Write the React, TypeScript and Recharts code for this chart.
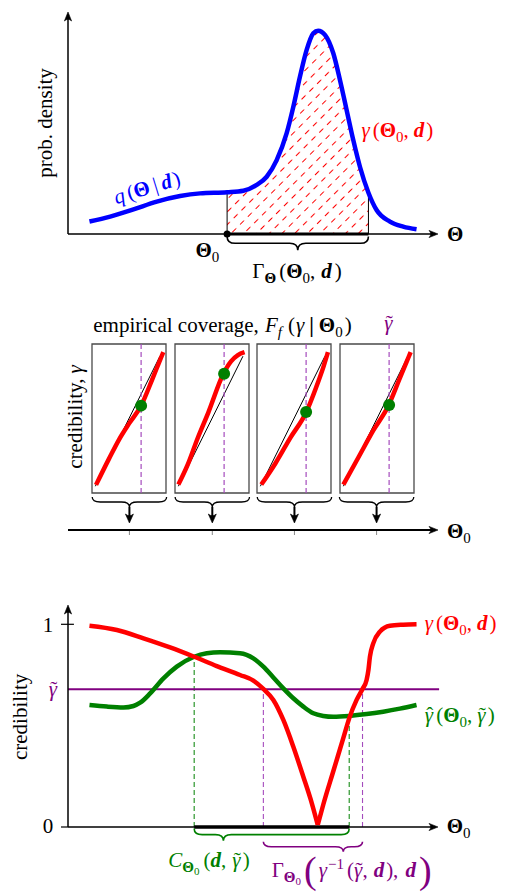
import React from "react";
import {
  ComposedChart,
  Line,
  Area,
  XAxis,
  YAxis,
  ReferenceLine,
  ReferenceDot,
  ReferenceArea,
} from "recharts";

// ---------------- data ----------------
// Top panel: posterior density q(Θ | d)
const thetaGrid = [5.8, 11.4, 17.7, 24.0, 30.3, 35.7, 43.0, 47.4, 51.0, 53.7, 56.4, 59.1, 60.9, 62.7, 64.5, 66.3, 67.6, 69.5, 71.7, 73.5, 75.3, 77.1, 78.9, 81.2, 83.4, 87.0, 90.6, 94.2];
const density = [5.6, 7.8, 11.1, 14.6, 17.1, 18.3, 18.8, 19.5, 22.1, 25.8, 33.3, 45.4, 57.3, 70.9, 82.9, 90.4, 91.6, 89.6, 81.4, 69.4, 55.9, 42.3, 30.3, 18.6, 10.8, 5.6, 3.3, 2.1];
const theta0Value = 43.0;
const regionEnd = 81.2;

// Middle panel: coverage curves at four Θ0 samples
const sampleTheta0 = [16.6, 39.0, 61.2, 83.4];
const gammaTilde = 0.68;
const diagonal = [
  { g: 0, c: 0 },
  { g: 0.96, c: 0.96 },
];
const coverage1 = [
  { g: 0.01, c: 0.01 }, { g: 0.2, c: 0.2 }, { g: 0.35, c: 0.343 }, { g: 0.5, c: 0.462 },
  { g: 0.68, c: 0.595 }, { g: 0.85, c: 0.795 }, { g: 0.94, c: 0.905 }, { g: 1.01, c: 0.99 },
];
const coverage2 = [
  { g: 0.0, c: 0.012 }, { g: 0.139, c: 0.159 }, { g: 0.288, c: 0.356 }, { g: 0.445, c: 0.544 },
  { g: 0.669, c: 0.83 }, { g: 0.783, c: 0.922 }, { g: 0.885, c: 0.968 }, { g: 0.984, c: 0.99 },
];
const coverage3 = [
  { g: 0.014, c: 0.012 }, { g: 0.225, c: 0.17 }, { g: 0.445, c: 0.357 }, { g: 0.683, c: 0.548 },
  { g: 0.83, c: 0.731 }, { g: 0.94, c: 0.885 }, { g: 1.005, c: 0.99 },
];
const coverage4 = [
  { g: 0.0, c: 0.012 }, { g: 0.225, c: 0.214 }, { g: 0.445, c: 0.412 }, { g: 0.673, c: 0.598 },
  { g: 0.83, c: 0.786 }, { g: 0.94, c: 0.918 }, { g: 1.0, c: 0.99 },
];
const coverageCurves = [coverage1, coverage2, coverage3, coverage4];
const coverageAtTilde = [0.595, 0.83, 0.548, 0.6];

// Bottom panel: credibility γ(Θ0, d) and γ̂(Θ0, γ̃)
const redLeftTheta = [5.8, 13.2, 20.4, 27.6, 34.1, 40.2, 46.5, 50.1, 52.8, 55.5, 58.2, 60.9, 63.6, 65.9, 67.5];
const redLeftCred = [0.993, 0.972, 0.931, 0.886, 0.84, 0.794, 0.75, 0.722, 0.681, 0.627, 0.528, 0.396, 0.248, 0.117, 0.01];
const redRightTheta = [67.5, 69.0, 71.7, 74.4, 76.0, 78.0, 79.6, 80.7, 81.2, 81.6, 82.5, 84.3, 87.0, 90.6, 94.2];
const redRightCred = [0.01, 0.111, 0.275, 0.438, 0.536, 0.627, 0.681, 0.725, 0.775, 0.84, 0.906, 0.964, 0.993, 0.998, 1.0];
const greenTheta = [5.8, 10.5, 15.0, 17.7, 19.5, 22.2, 25.8, 29.4, 34.1, 37.5, 41.1, 46.5, 50.1, 52.8, 55.5, 58.2, 60.9, 63.6, 66.3, 69.0, 71.7, 76.0, 80.7, 85.2, 89.7, 94.2];
const greenCred = [0.602, 0.594, 0.59, 0.597, 0.613, 0.659, 0.733, 0.791, 0.84, 0.857, 0.862, 0.857, 0.832, 0.791, 0.738, 0.684, 0.635, 0.594, 0.561, 0.548, 0.544, 0.548, 0.557, 0.569, 0.584, 0.602];
const credibleLo = 34.1;
const credibleHi = 76.0;
const credibleBraceTip = 42.0;
const gammaLo = 52.8;
const gammaHi = 79.6;
const gammaBraceTip = 74.4;

// ---------------- style / layout ----------------
const FONT = "'Liberation Serif', 'Times New Roman', Times, serif";
const FS = 21;
const SUB = 15;
const SUB2 = 11;
const BLUE = "#0000ff";
const RED = "#ff0000";
const GREEN = "#008000";
const PURPLE = "#800080";
const DPURPLE = "#a54bbd";
const M0 = { top: 0, right: 0, bottom: 0, left: 0 };

const ORIGIN_X = 68;
const PX_PER_UNIT = 3.7;
const X_DOMAIN: [number, number] = [-ORIGIN_X / PX_PER_UNIT, (508 - ORIGIN_X) / PX_PER_UNIT];
const TOP_Y: [number, number] = [-56 / 2.22, 234 / 2.22];
const MID_Y: [number, number] = [-30, 234];
const BOT_Y: [number, number] = [-65 / 202.7, 237 / 202.7];

const BOX_W = 74;
const BOX_H = 149;
const PAD = 5;
const BOX_HALF_UNITS = 37.2 / PX_PER_UNIT;

// ---------------- helpers ----------------
type Anchor = "start" | "middle" | "end";
function txt(
  key: string,
  x: number,
  y: number,
  content: React.ReactNode,
  opt: { anchor?: Anchor; fill?: string; rotate?: number; central?: boolean; size?: number; bold?: boolean } = {}
) {
  const { anchor = "start", fill = "#000", rotate = 0, central = false, size = FS, bold = false } = opt;
  return (
    <ReferenceDot
      key={key}
      x={x}
      y={y}
      r={0}
      ifOverflow="visible"
      shape={(p: any) => (
        <text
          x={p.cx}
          y={p.cy}
          textAnchor={anchor}
          fill={fill}
          fontFamily={FONT}
          fontSize={size}
          fontWeight={bold ? "bold" : "normal"}
          dominantBaseline={central ? "central" : undefined}
          transform={rotate ? `rotate(${rotate} ${p.cx} ${p.cy})` : undefined}
        >
          {content}
        </text>
      )}
    />
  );
}

function arrowShape(color: string, width: number, headLen = 9, headW = 3.6) {
  return (p: any) => {
    const { x1, y1, x2, y2 } = p;
    const dx = x2 - x1;
    const dy = y2 - y1;
    const L = Math.hypot(dx, dy) || 1;
    const ux = dx / L;
    const uy = dy / L;
    const nx = -uy;
    const ny = ux;
    const bx = x2 - ux * headLen;
    const by = y2 - uy * headLen;
    const cxp = x2 - ux * headLen * 0.62;
    const cyp = y2 - uy * headLen * 0.62;
    const head = `M${x2},${y2} L${bx + nx * headW},${by + ny * headW} Q${cxp},${cyp} ${bx - nx * headW},${by - ny * headW} Z`;
    return (
      <g>
        <line x1={x1} y1={y1} x2={x2 - ux * headLen * 0.6} y2={y2 - uy * headLen * 0.6} stroke={color} strokeWidth={width} />
        <path d={head} fill={color} stroke={color} strokeWidth={0.6} strokeLinejoin="round" />
      </g>
    );
  };
}

function braceShape(tipFrac: number, color: string, width = 1.6) {
  return (p: any) => {
    const { x1, y1, x2, y2 } = p;
    const xa = Math.min(x1, x2);
    const xb = Math.max(x1, x2);
    const xm = xa + (xb - xa) * tipFrac;
    const h = y2 - y1;
    const ym = y1 + h / 2;
    const r = Math.min(8, (xb - xa) / 6, Math.max(2, (xm - xa) / 2), Math.max(2, (xb - xm) / 2));
    const d = `M${xa},${y1} Q${xa},${ym} ${xa + r},${ym} L${xm - r},${ym} Q${xm},${ym} ${xm},${y2} Q${xm},${ym} ${xm + r},${ym} L${xb - r},${ym} Q${xb},${ym} ${xb},${y1}`;
    return <path d={d} fill="none" stroke={color} strokeWidth={width} />;
  };
}

function seg(key: string, xA: number, yA: number, xB: number, yB: number, props: any) {
  return <ReferenceLine key={key} segment={[{ x: xA, y: yA }, { x: xB, y: yB }]} ifOverflow="visible" {...props} />;
}

// ---------------- math labels ----------------
// γ with an accent placed above it (tilde / hat)
const accented = (accent: string, dxBack = -6.8) => (
  <>
    <tspan fontStyle="italic">γ</tspan>
    <tspan dx={dxBack} fontStyle="normal">{accent}</tspan>
  </>
);
const gTilde = accented("˜");
const gHat = accented("ˆ");

const Theta0 = (
  <>
    <tspan fontWeight="bold">Θ</tspan>
    <tspan fontSize={SUB} dy={5}>0</tspan>
  </>
);

const gammaLabel = (
  <>
    <tspan fontStyle="italic">γ</tspan>
    <tspan dx={3}>(</tspan>
    <tspan fontWeight="bold">Θ</tspan>
    <tspan fontSize={SUB} dy={5}>0</tspan>
    <tspan dy={-5}>,</tspan>
    <tspan dx={5} fontWeight="bold" fontStyle="italic">d</tspan>
    <tspan dx={2}>)</tspan>
  </>
);

// ---------------- panels ----------------
function TopPanel() {
  const rows = thetaGrid.map((t, i) => ({
    t,
    q: density[i],
    shade: t >= theta0Value && t <= regionEnd ? density[i] : null,
  }));
  const qAt = (t: number) => density[thetaGrid.indexOf(t)];
  return (
    <ComposedChart width={508} height={290} data={rows} margin={M0}>
      <defs>
        <pattern
          id="hatchRedTop"
          patternUnits="userSpaceOnUse"
          width="11"
          height="9"
          patternTransform="rotate(-45)"
        >
          <rect x="0" y="4" width="5.5" height="1" fill="#ff0000" style={{ fill: "#ff0000" }} />
        </pattern>
      </defs>
      <XAxis type="number" dataKey="t" domain={X_DOMAIN} hide allowDataOverflow height={0} />
      <YAxis type="number" domain={TOP_Y} hide allowDataOverflow width={0} />
      <Area
        type="monotone"
        dataKey="shade"
        fill="url(#hatchRedTop)"
        fillOpacity={1}
        stroke="none"
        baseValue={0}
        dot={false}
        activeDot={false}
        isAnimationActive={false}
      />
      {seg("e1", theta0Value, 0, theta0Value, qAt(theta0Value), { stroke: "#000", strokeWidth: 1 })}
      {seg("e2", regionEnd, 0, regionEnd, qAt(regionEnd), { stroke: "#000", strokeWidth: 1 })}
      {seg("yax", 0, 0, 0, 100, { shape: arrowShape("#000", 1.5) })}
      {seg("xax", 0, 0, 100, 0, { shape: arrowShape("#000", 1.5) })}
      {seg("thick", theta0Value, 0, regionEnd, 0, { stroke: "#000", strokeWidth: 3.2 })}
      <Line
        type="monotone"
        dataKey="q"
        stroke={BLUE}
        strokeWidth={4.5}
        dot={false}
        activeDot={false}
        isAnimationActive={false}
      />
      <ReferenceDot x={theta0Value} y={0} r={3.5} fill="#000" stroke="none" ifOverflow="visible" />
      {seg("brace", theta0Value, -1.1, regionEnd, -7.3, { shape: braceShape(0.5, "#000", 1.6) })}
      {txt("pd", -6.22, 50.0, "prob. density", { anchor: "middle", rotate: -90, central: true })}
      {txt(
        "q",
        21.35,
        20.9,
        <>
          <tspan fontStyle="italic">q</tspan>
          <tspan dx={3}>(</tspan>
          <tspan fontWeight="bold">Θ</tspan>
          <tspan dx={4}>|</tspan>
          <tspan dx={4} fontWeight="bold" fontStyle="italic">d</tspan>
          <tspan dx={2}>)</tspan>
        </>,
        { anchor: "middle", rotate: -17, central: true, fill: BLUE }
      )}
      {txt("g", 79.3, 43.7, gammaLabel, { fill: RED })}
      {txt("Th", 102.4, -3.2, "Θ", { bold: true })}
      {txt("Th0", 40.9, -10.4, Theta0, { anchor: "end" })}
      {txt(
        "Gam",
        61.9,
        -19.8,
        <>
          <tspan>Γ</tspan>
          <tspan fontWeight="bold" fontSize={SUB} dy={5}>Θ</tspan>
          <tspan dy={-5} dx={3}>(</tspan>
          <tspan fontWeight="bold">Θ</tspan>
          <tspan fontSize={SUB} dy={5}>0</tspan>
          <tspan dy={-5}>,</tspan>
          <tspan dx={6} fontWeight="bold" fontStyle="italic">d</tspan>
          <tspan dx={3}>)</tspan>
        </>,
        { anchor: "middle" }
      )}
    </ComposedChart>
  );
}

function MiddleOverlay() {
  const rows = sampleTheta0.map((t) => ({ t }));
  return (
    <ComposedChart width={508} height={264} data={rows} margin={M0}>
      <XAxis type="number" dataKey="t" domain={X_DOMAIN} hide allowDataOverflow height={0} />
      <YAxis type="number" domain={MID_Y} hide allowDataOverflow width={0} />
      {sampleTheta0.map((t, i) => seg(`tk${i}`, t, 0, t, -5, { stroke: "#888", strokeWidth: 1 }))}
      {seg("ax", 0, 0, 100, 0, { shape: arrowShape("#000", 2) })}
      {sampleTheta0.map((t, i) =>
        seg(`br${i}`, t - BOX_HALF_UNITS, 33, t + BOX_HALF_UNITS, 23, { shape: braceShape(0.5, "#000", 1.3) })
      )}
      {sampleTheta0.map((t, i) => seg(`ar${i}`, t, 23, t, 7, { shape: arrowShape("#000", 2, 9, 4) }))}
      {txt(
        "title",
        6.84,
        198,
        <>
          <tspan>empirical coverage,</tspan>
          <tspan dx={6} fontStyle="italic">F</tspan>
          <tspan fontStyle="italic" fontSize={SUB} dy={5}>f</tspan>
          <tspan dy={-5} dx={6}>(</tspan>
          <tspan dx={1} fontStyle="italic">γ</tspan>
          <tspan dx={5} fontWeight="bold">|</tspan>
          <tspan dx={5} fontWeight="bold">Θ</tspan>
          <tspan fontSize={SUB} dy={5}>0</tspan>
          <tspan dy={-5} dx={2}>)</tspan>
        </>
      )}
      {txt("gt", 86.6, 200, gTilde, { anchor: "middle", fill: PURPLE })}
      {txt(
        "cred",
        1.9,
        113,
        <>
          <tspan>credibility,</tspan>
          <tspan dx={5} fontStyle="italic">γ</tspan>
        </>,
        { anchor: "middle", rotate: -90, central: true }
      )}
      {txt("Th0", 102.4, -8, Theta0)}
    </ComposedChart>
  );
}

function CoverageBox({ points, dotValue }: { points: { g: number; c: number }[]; dotValue: number }) {
  return (
    <ComposedChart width={BOX_W + 2 * PAD} height={BOX_H + 2 * PAD} margin={{ top: PAD, right: PAD, bottom: PAD, left: PAD }}>
      <XAxis type="number" dataKey="g" domain={[-0.05, 1.05]} hide allowDataOverflow height={0} />
      <YAxis type="number" domain={[-0.05, 1.05]} hide allowDataOverflow width={0} />
      <ReferenceArea x1={-0.05} x2={1.05} y1={-0.05} y2={1.05} fill="none" fillOpacity={0} stroke="#4a4a4a" strokeWidth={1.3} ifOverflow="visible" />
      <Line data={diagonal} dataKey="c" type="linear" stroke="#000" strokeWidth={1} dot={false} activeDot={false} isAnimationActive={false} />
      <ReferenceLine x={gammaTilde} stroke={DPURPLE} strokeDasharray="5 3" strokeWidth={1.2} />
      <Line data={points} dataKey="c" type="monotone" stroke={RED} strokeWidth={4.5} dot={false} activeDot={false} isAnimationActive={false} />
      <ReferenceDot x={gammaTilde} y={dotValue} r={6} fill={GREEN} stroke="none" ifOverflow="visible" />
    </ComposedChart>
  );
}

function BottomPanel() {
  const red1 = redLeftTheta.map((t, i) => ({ t, c: redLeftCred[i] }));
  const red2 = redRightTheta.map((t, i) => ({ t, c: redRightCred[i] }));
  const green = greenTheta.map((t, i) => ({ t, c: greenCred[i] }));
  const gAt = (t: number) => greenCred[greenTheta.indexOf(t)];
  return (
    <ComposedChart width={508} height={302} data={green} margin={M0}>
      <XAxis type="number" dataKey="t" domain={X_DOMAIN} hide allowDataOverflow height={0} />
      <YAxis type="number" domain={BOT_Y} hide allowDataOverflow width={0} />
      {seg("dg1", credibleLo, 0, credibleLo, gAt(credibleLo), { stroke: GREEN, strokeWidth: 1, strokeDasharray: "5 3" })}
      {seg("dg2", credibleHi, 0, credibleHi, gAt(credibleHi), { stroke: GREEN, strokeWidth: 1, strokeDasharray: "5 3" })}
      {seg("dp1", gammaLo, 0, gammaLo, gammaTilde, { stroke: DPURPLE, strokeWidth: 1.1, strokeDasharray: "5 3" })}
      {seg("dp2", gammaHi, 0, gammaHi, gammaTilde, { stroke: DPURPLE, strokeWidth: 1.1, strokeDasharray: "5 3" })}
      {seg("ht", 0, gammaTilde, 100.3, gammaTilde, { stroke: PURPLE, strokeWidth: 2 })}
      {seg("yax", 0, 0, 0, 1.095, { shape: arrowShape("#000", 1.5) })}
      {seg("xax", 0, 0, 100, 0, { shape: arrowShape("#000", 1.5) })}
      {seg("t1", -1.9, 1, 1.6, 1, { stroke: "#000", strokeWidth: 1.2 })}
      {seg("t0", -1.9, 0, 0, 0, { stroke: "#000", strokeWidth: 1.2 })}
      {seg("thick", credibleLo, 0, credibleHi, 0, { stroke: "#000", strokeWidth: 3.5 })}
      <Line data={green} dataKey="c" type="monotone" stroke={GREEN} strokeWidth={4.5} dot={false} activeDot={false} isAnimationActive={false} />
      <Line data={red1} dataKey="c" type="monotone" stroke={RED} strokeWidth={4.5} dot={false} activeDot={false} isAnimationActive={false} />
      <Line data={red2} dataKey="c" type="monotone" stroke={RED} strokeWidth={4.5} dot={false} activeDot={false} isAnimationActive={false} />
      {seg("bg", credibleLo, -0.007, credibleHi, -0.068, {
        shape: braceShape((credibleBraceTip - credibleLo) / (credibleHi - credibleLo), GREEN, 1.6),
      })}
      {seg("bp", gammaLo, -0.073, gammaHi, -0.122, {
        shape: braceShape((gammaBraceTip - gammaLo) / (gammaHi - gammaLo), PURPLE, 1.6),
      })}
      {txt("one", -5.4, 0.962, "1", { anchor: "middle" })}
      {txt("zero", -5.4, -0.03, "0", { anchor: "middle" })}
      {txt("gt", -4.05, 0.681, gTilde, { anchor: "middle", central: true, fill: PURPLE })}
      {txt("cred", -12.97, 0.543, "credibility", { anchor: "middle", rotate: -90, central: true })}
      {txt("Th0", 102.35, -0.03, Theta0)}
      {txt("gam", 96.4, 0.972, gammaLabel, { fill: RED })}
      {txt(
        "ghat",
        96.4,
        0.518,
        <>
          {gHat}
          <tspan dx={3}>(</tspan>
          <tspan fontWeight="bold">Θ</tspan>
          <tspan fontSize={SUB} dy={5}>0</tspan>
          <tspan dy={-5}>,</tspan>
          <tspan dx={5} fontStyle="italic">γ</tspan>
          <tspan dx={-6.8}>˜</tspan>
          <tspan dx={2}>)</tspan>
        </>,
        { fill: GREEN }
      )}
      {txt(
        "C",
        27.1,
        -0.196,
        <>
          <tspan fontStyle="italic">C</tspan>
          <tspan fontWeight="bold" fontSize={SUB} dy={5}>Θ</tspan>
          <tspan fontSize={SUB2} dy={3}>0</tspan>
          <tspan dy={-8} dx={4}>(</tspan>
          <tspan fontWeight="bold" fontStyle="italic">d</tspan>
          <tspan>,</tspan>
          <tspan dx={6} fontStyle="italic">γ</tspan>
          <tspan dx={-6.8}>˜</tspan>
          <tspan dx={2}>)</tspan>
        </>,
        { fill: GREEN }
      )}
      {txt(
        "G",
        55.05,
        -0.245,
        <>
          <tspan>Γ</tspan>
          <tspan fontWeight="bold" fontSize={SUB} dy={5}>Θ</tspan>
          <tspan fontSize={SUB2} dy={3}>0</tspan>
          <tspan fontSize={38} dy={-2} dx={3}>(</tspan>
          <tspan dy={-6} dx={2} fontStyle="italic">γ</tspan>
          <tspan fontSize={SUB} dy={-8} dx={1}>−1</tspan>
          <tspan dy={8} dx={3}>(</tspan>
          <tspan fontStyle="italic">γ</tspan>
          <tspan dx={-6.8}>˜</tspan>
          <tspan>,</tspan>
          <tspan dx={6} fontWeight="bold" fontStyle="italic">d</tspan>
          <tspan dx={2}>),</tspan>
          <tspan dx={7} fontWeight="bold" fontStyle="italic">d</tspan>
          <tspan fontSize={38} dy={6} dx={3}>)</tspan>
        </>,
        { fill: PURPLE }
      )}
    </ComposedChart>
  );
}

export default function App() {
  return (
    <div style={{ position: "absolute", left: 0, top: 0, width: 508, height: 892, background: "#fff", overflow: "hidden" }}>
      <div style={{ position: "absolute", left: 0, top: 0 }}>
        <TopPanel />
      </div>
      <div style={{ position: "absolute", left: 0, top: 296 }}>
        <MiddleOverlay />
      </div>
      {sampleTheta0.map((t, i) => (
        <div
          key={i}
          style={{
            position: "absolute",
            left: ORIGIN_X + PX_PER_UNIT * t - BOX_W / 2 - PAD,
            top: 344 - PAD,
          }}
        >
          <CoverageBox points={coverageCurves[i]} dotValue={coverageAtTilde[i]} />
        </div>
      ))}
      <div style={{ position: "absolute", left: 0, top: 590 }}>
        <BottomPanel />
      </div>
    </div>
  );
}
